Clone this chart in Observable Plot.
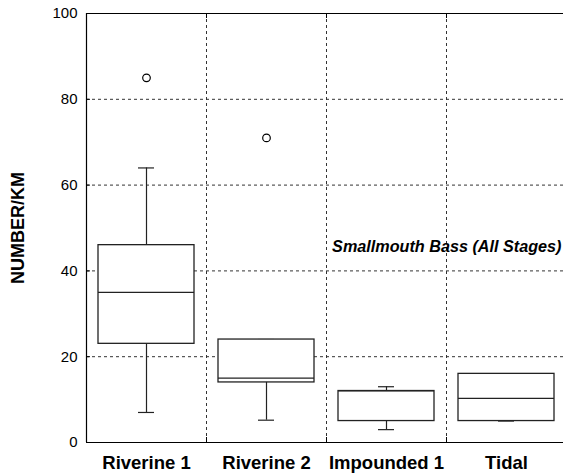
<!DOCTYPE html>
<html><head><meta charset="utf-8">
<script src="https://cdn.jsdelivr.net/npm/d3@7"></script>
<script src="https://cdn.jsdelivr.net/npm/@observablehq/plot@0.6"></script>
<style>
html,body{margin:0;padding:0;background:#fff;overflow:hidden}
#chart svg{max-width:none;display:block}
</style></head><body><div id="chart"></div>
<script>
const categories = ["Riverine 1", "Riverine 2", "Impounded 1", "Tidal"];
const whiskerLow  = [7, 5.2, 3, 5];
const q1          = [23, 14, 5, 5];
const median      = [35, 15, 12, 10.3];
const q3          = [46, 24, 12, 16];
const whiskerHigh = [64, 24, 13, 16];
const outlierCategory = ["Riverine 1", "Riverine 2"];
const outlierValue    = [85, 71];
const yTicks = [0, 20, 40, 60, 80, 100];
const yLabel = "NUMBER/KM";
const annotation = "Smallmouth Bass (All Stages)";
const annotationY = 45.5;

const data = categories.map((c, i) => ({cat: c, i, lo: whiskerLow[i], q1: q1[i], med: median[i], q3: q3[i], hi: whiskerHigh[i]}));
const outliers = outlierCategory.map((c, k) => ({i: categories.indexOf(c), value: outlierValue[k]}));
const xGrid = d3.range(1, categories.length).map(k => k - 0.5);
const yGrid = yTicks.slice(1, -1);
const boxHalf = 0.4, capHalf = 0.0667;
const W = 566, H = 476, mL = 86, mR = 0, mT = 13, mB = 34;
const plotH = H - mT - mB, plotW = W - mL - mR;
const font = "'Liberation Sans', Arial, Helvetica, sans-serif";

const chart = Plot.plot({
  width: W, height: H,
  marginLeft: mL, marginRight: mR, marginTop: mT, marginBottom: mB,
  style: {fontFamily: font, background: "white", color: "black"},
  x: {type: "linear", domain: [-0.5, categories.length - 0.5]},
  y: {domain: [0, 100]},
  marks: [
    Plot.ruleY(yGrid, {stroke: "#333", strokeDasharray: "3,3", strokeWidth: 1}),
    Plot.ruleX(xGrid, {stroke: "#333", strokeDasharray: "3,3", strokeWidth: 1}),
    Plot.ruleX(xGrid, {stroke: "black", insetBottom: plotH - 5}),
    Plot.ruleX(xGrid, {stroke: "black", insetTop: plotH - 5}),
    Plot.ruleY(yGrid, {stroke: "black", insetRight: plotW - 4}),
    Plot.ruleY([0, 100], {stroke: "black", strokeWidth: 1.2}),
    Plot.ruleX([-0.5], {stroke: "black", strokeWidth: 1.2}),
    Plot.ruleX(data, {x: "i", y1: "lo", y2: "hi", stroke: "#222", strokeWidth: 1.2}),
    Plot.ruleY(data, {y: "lo", x1: d => d.i - capHalf, x2: d => d.i + capHalf, stroke: "#222", strokeWidth: 1.2}),
    Plot.ruleY(data, {y: "hi", x1: d => d.i - capHalf, x2: d => d.i + capHalf, stroke: "#222", strokeWidth: 1.2}),
    Plot.rectY(data, {x1: d => d.i - boxHalf, x2: d => d.i + boxHalf, y1: "q1", y2: "q3", fill: "white", stroke: "#222", strokeWidth: 1.3}),
    Plot.ruleY(data, {y: "med", x1: d => d.i - boxHalf, x2: d => d.i + boxHalf, stroke: "#222", strokeWidth: 1.2}),
    Plot.dot(outliers, {x: "i", y: "value", r: 3.8, stroke: "black", fill: "white", strokeWidth: 1.2}),
    Plot.axisY({ticks: yTicks, tickSize: 0, tickPadding: 9, fontSize: 15, label: null}),
    Plot.axisX({ticks: d3.range(categories.length), tickFormat: i => categories[i], tickSize: 0, tickPadding: 13, fontSize: 18.5, fontWeight: "bold", label: null}),
    Plot.text([yLabel], {text: d => d, frameAnchor: "left", textAnchor: "middle", rotate: -90, dx: -68, fontSize: 18, fontWeight: "bold"}),
    Plot.text([annotation], {text: d => d, frameAnchor: "right", y: () => annotationY, textAnchor: "end", dx: -5, fontSize: 16.2, fontWeight: "bold", fontStyle: "italic"})
  ]
});
document.getElementById("chart").appendChild(chart);
</script></body></html>
